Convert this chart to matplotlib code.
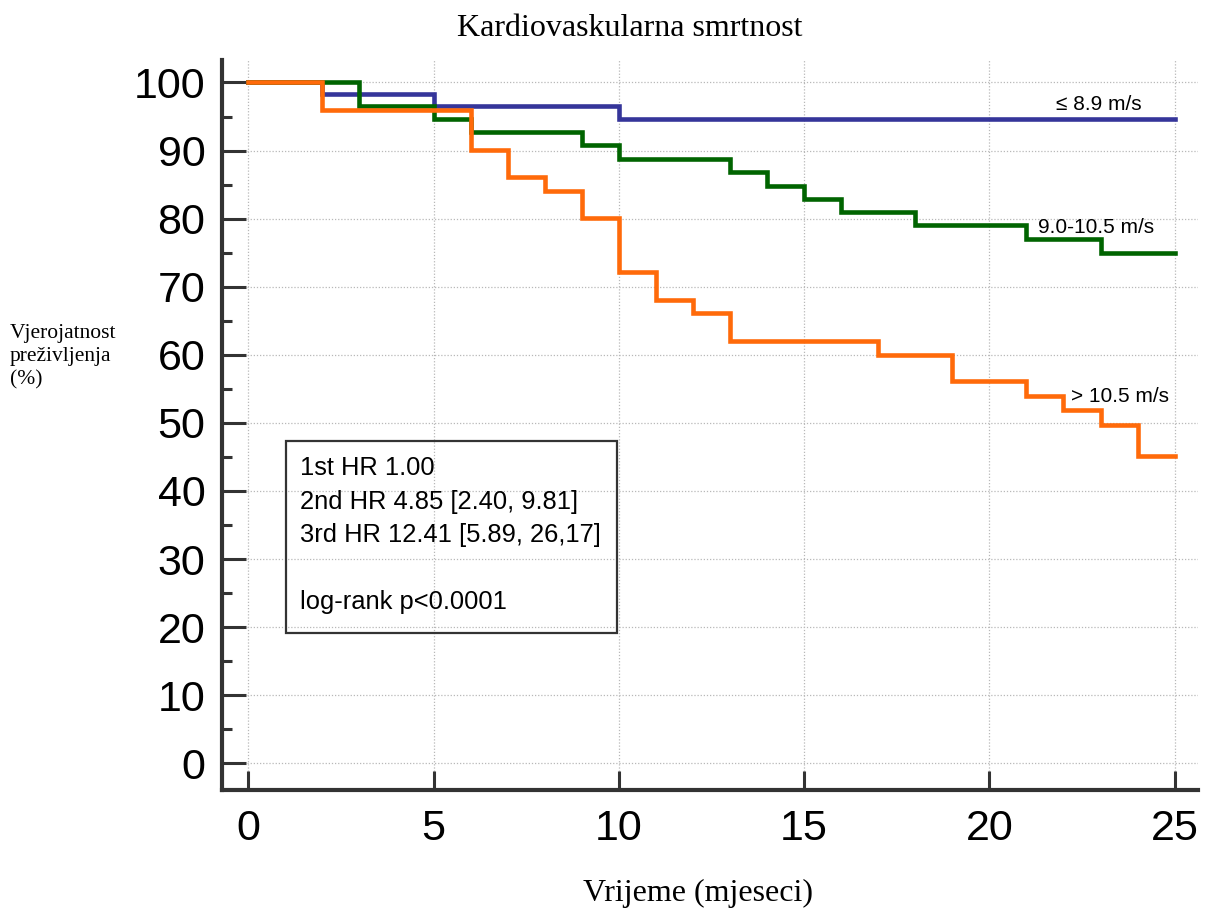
import matplotlib.pyplot as plt
from matplotlib.patches import Rectangle

# podaci (Kaplan-Meier krivulje, očitano sa slike)
t_low = [0, 2, 5, 10, 25]
s_low = [100, 98.3, 96.6, 94.6, 94.6]

t_mid = [0, 3, 5, 6, 9, 10, 13, 14, 15, 16, 18, 21, 23, 25]
s_mid = [100, 96.5, 94.6, 92.7, 90.8, 88.8, 86.9, 84.8, 82.9, 81.0, 79.0, 77.0, 75.0, 75.0]

t_high = [0, 2, 6, 7, 8, 9, 10, 11, 12, 13, 17, 19, 21, 22, 23, 24, 25]
s_high = [100, 96.0, 90.1, 86.1, 84.1, 80.1, 72.1, 68.0, 66.2, 62.1, 60.0, 56.1, 54.0, 51.9, 49.7, 45.2, 45.2]

group_labels = ["\u2264 8.9 m/s", "9.0-10.5 m/s", "> 10.5 m/s"]
label_pos = [(24.1, 96.8), (24.45, 78.7), (24.85, 53.9)]
colors = ["#35359a", "#006400", "#ff6a0a"]

hr_lines = ["1st HR 1.00",
            "2nd HR 4.85 [2.40, 9.81]",
            "3rd HR 12.41 [5.89, 26,17]",
            "",
            "log-rank p<0.0001"]

xticks = [0, 5, 10, 15, 20, 25]
yticks = [0, 10, 20, 30, 40, 50, 60, 70, 80, 90, 100]

sans = "Liberation Sans"
serif = "Liberation Serif"

fig = plt.figure(figsize=(12.06, 9.18), dpi=100)
ax = fig.add_axes([222/1206, 128/918, 976/1206, 730/918])

for t, s, c in zip([t_low, t_mid, t_high], [s_low, s_mid, s_high], colors):
    ax.step(t, s, where="post", color=c, lw=3.3, solid_joinstyle="miter", zorder=3)

for (x, y), lab in zip(label_pos, group_labels):
    ax.text(x, y, lab, ha="right", va="center", fontsize=15, family=sans, zorder=4)

ax.set_xlim(-0.71, 25.63)
ax.set_ylim(-3.92, 103.3)

ax.set_xticks(xticks)
ax.set_yticks(yticks)
ax.set_yticks([5 + 10*i for i in range(10)], minor=True)
ax.grid(True, which="major", color="#b8b8b8", ls=(0, (1, 1.5)), lw=0.9)

for side in ["top", "right"]:
    ax.spines[side].set_visible(False)
for side in ["left", "bottom"]:
    ax.spines[side].set_linewidth(3.0)
    ax.spines[side].set_color("#333333")

ax.tick_params(axis="y", which="major", direction="in", length=17, width=2.2,
               color="#333333", pad=12, labelsize=31)
ax.tick_params(axis="y", which="minor", direction="in", length=7, width=2.2, color="#333333")
ax.tick_params(axis="x", which="major", direction="in", length=14, width=2.2,
               color="#333333", pad=14, labelsize=31)
for lab in ax.get_xticklabels() + ax.get_yticklabels():
    lab.set_family(sans)

# okvir s HR vrijednostima
ax.add_patch(Rectangle((1.02, 19.2), 8.93, 28.1, fill=False, ec="#333333", lw=1.6, zorder=4))
ax.text(1.4, 45.1, "\n".join(hr_lines), ha="left", va="top", fontsize=18.4,
        family=sans, linespacing=1.5, zorder=4)

fig.text(630/1206, 1 - 28/918, "Kardiovaskularna smrtnost", ha="center", va="center",
         fontsize=23, family=serif)
fig.text(698/1206, 1 - 893/918, "Vrijeme (mjeseci)", ha="center", va="center",
         fontsize=23, family=serif)
fig.text(10/1206, 1 - 357/918, "Vjerojatnost\npreživljenja\n(%)", ha="left", va="center",
         fontsize=15.5, family=serif, linespacing=1.28)

fig.savefig("out.png", dpi=100)
